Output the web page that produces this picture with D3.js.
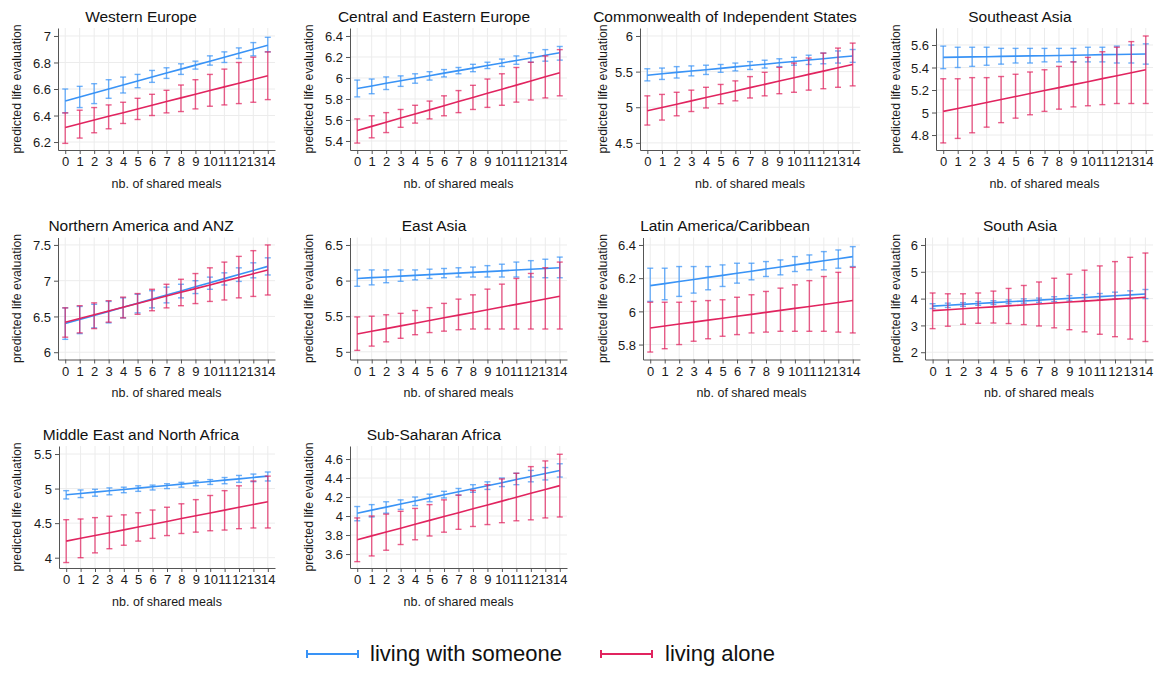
<!DOCTYPE html>
<html>
<head>
<meta charset="utf-8">
<script src="https://cdn.jsdelivr.net/npm/d3@7"></script>
<style>
  html, body { margin: 0; padding: 0; background: #fff; }
  svg { display: block; font-family: "Liberation Sans", Arial, Helvetica, sans-serif; }
</style>
</head>
<body>
<svg id="chart" width="1158" height="673"></svg>
<script>
// ---------------- DATA ----------------
const meals = [0,1,2,3,4,5,6,7,8,9,10,11,12,13,14];
const regions = ["Western Europe", "Central and Eastern Europe", "Commonwealth of Independent States", "Southeast Asia",
  "Northern America and ANZ", "East Asia", "Latin America/Caribbean", "South Asia",
  "Middle East and North Africa", "Sub-Saharan Africa"];
const seriesNames = ["living with someone", "living alone"];
const xTitle = "nb. of shared meals";
const yTitle = "predicted life evaluation";

// Western Europe
const weTicks = [6.2, 6.4, 6.6, 6.8, 7];
const weWithMean = [6.51,6.54,6.57,6.60,6.63,6.66,6.69,6.72,6.75,6.78,6.81,6.84,6.87,6.90,6.93];
const weWithLo   = [6.42,6.46,6.49,6.53,6.57,6.61,6.65,6.68,6.71,6.75,6.78,6.80,6.83,6.85,6.88];
const weWithHi   = [6.60,6.62,6.64,6.67,6.69,6.71,6.74,6.76,6.79,6.81,6.85,6.88,6.91,6.95,6.99];
const weAloneMean = [6.310,6.338,6.366,6.394,6.421,6.449,6.477,6.505,6.533,6.561,6.589,6.616,6.644,6.672,6.700];
const weAloneLo   = [6.19,6.23,6.27,6.30,6.34,6.37,6.40,6.42,6.43,6.45,6.47,6.48,6.49,6.50,6.52];
const weAloneHi   = [6.42,6.44,6.46,6.48,6.50,6.53,6.56,6.59,6.63,6.67,6.71,6.75,6.80,6.84,6.88];

// Central and Eastern Europe
const ceeTicks = [5.4, 5.6, 5.8, 6, 6.2, 6.4];
const ceeWithMean = [5.900,5.924,5.949,5.973,5.997,6.021,6.046,6.070,6.094,6.119,6.143,6.167,6.191,6.216,6.240];
const ceeWithLo   = [5.82,5.85,5.89,5.92,5.95,5.98,6.01,6.04,6.06,6.09,6.11,6.13,6.15,6.16,6.17];
const ceeWithHi   = [5.98,5.99,6.01,6.02,6.04,6.06,6.08,6.10,6.13,6.15,6.18,6.21,6.24,6.27,6.30];
const ceeAloneMean = [5.500,5.539,5.579,5.618,5.657,5.696,5.736,5.775,5.814,5.854,5.893,5.932,5.971,6.011,6.050];
const ceeAloneLo   = [5.38,5.43,5.48,5.53,5.57,5.61,5.64,5.67,5.70,5.72,5.74,5.77,5.79,5.81,5.83];
const ceeAloneHi   = [5.61,5.64,5.67,5.70,5.74,5.78,5.83,5.88,5.93,5.99,6.04,6.10,6.15,6.21,6.27];

// Commonwealth of Independent States
const cisTicks = [4.5, 5, 5.5, 6];
const cisWithMean = [5.450,5.469,5.489,5.508,5.527,5.546,5.566,5.585,5.604,5.624,5.643,5.662,5.681,5.701,5.720];
const cisWithLo   = [5.37,5.39,5.41,5.44,5.46,5.49,5.51,5.53,5.55,5.57,5.59,5.60,5.61,5.62,5.63];
const cisWithHi   = [5.54,5.55,5.57,5.58,5.59,5.60,5.62,5.64,5.66,5.68,5.70,5.73,5.76,5.79,5.81];
const cisAloneMean = [4.950,4.996,5.043,5.089,5.136,5.182,5.229,5.275,5.321,5.368,5.414,5.461,5.507,5.554,5.600];
const cisAloneLo   = [4.75,4.82,4.88,4.94,4.99,5.05,5.09,5.13,5.16,5.19,5.21,5.24,5.26,5.28,5.30];
const cisAloneHi   = [5.16,5.18,5.21,5.24,5.28,5.32,5.37,5.43,5.49,5.56,5.62,5.69,5.76,5.83,5.90];

// Southeast Asia
const seaTicks = [4.8, 5, 5.2, 5.4, 5.6];
const seaWithMean = [5.490,5.492,5.494,5.496,5.499,5.501,5.503,5.505,5.507,5.509,5.511,5.514,5.516,5.518,5.520];
const seaWithLo   = [5.39,5.40,5.41,5.42,5.43,5.44,5.44,5.45,5.45,5.45,5.45,5.45,5.44,5.44,5.43];
const seaWithHi   = [5.59,5.58,5.58,5.58,5.57,5.57,5.57,5.57,5.57,5.57,5.58,5.58,5.59,5.60,5.61];
const seaAloneMean = [5.010,5.036,5.063,5.089,5.116,5.142,5.169,5.195,5.221,5.248,5.274,5.301,5.327,5.354,5.380];
const seaAloneLo   = [4.73,4.77,4.82,4.87,4.91,4.95,4.98,5.01,5.03,5.05,5.06,5.07,5.08,5.08,5.08];
const seaAloneHi   = [5.30,5.30,5.31,5.31,5.32,5.34,5.36,5.38,5.41,5.45,5.49,5.54,5.58,5.63,5.68];

// Northern America and ANZ
const naTicks = [6, 6.5, 7, 7.5];
const naWithMean = [6.400,6.457,6.514,6.571,6.629,6.686,6.743,6.800,6.857,6.914,6.971,7.029,7.086,7.143,7.200];
const naWithLo   = [6.18,6.26,6.34,6.41,6.48,6.55,6.62,6.69,6.76,6.82,6.88,6.94,6.99,7.04,7.08];
const naWithHi   = [6.62,6.64,6.67,6.71,6.76,6.81,6.86,6.91,6.95,7.00,7.05,7.11,7.18,7.25,7.32];
const naAloneMean = [6.420,6.472,6.524,6.576,6.629,6.681,6.733,6.785,6.837,6.889,6.941,6.994,7.046,7.098,7.150];
const naAloneLo   = [6.21,6.27,6.33,6.42,6.48,6.53,6.58,6.62,6.65,6.68,6.71,6.73,6.76,6.78,6.80];
const naAloneHi   = [6.62,6.65,6.69,6.72,6.77,6.82,6.88,6.95,7.02,7.10,7.18,7.26,7.34,7.42,7.50];

// East Asia
const eaTicks = [5, 5.5, 6, 6.5];
const eaWithMean = [6.030,6.041,6.051,6.062,6.073,6.084,6.094,6.105,6.116,6.126,6.137,6.148,6.159,6.169,6.180];
const eaWithLo   = [5.92,5.94,5.97,5.99,6.01,6.03,6.04,6.05,6.05,6.05,6.05,6.05,6.05,6.04,6.04];
const eaWithHi   = [6.15,6.15,6.15,6.15,6.15,6.16,6.17,6.18,6.19,6.21,6.23,6.26,6.28,6.30,6.33];
const eaAloneMean = [5.250,5.288,5.326,5.364,5.401,5.439,5.477,5.515,5.553,5.591,5.629,5.666,5.704,5.742,5.780];
const eaAloneLo   = [5.02,5.08,5.14,5.19,5.24,5.27,5.29,5.31,5.32,5.32,5.32,5.32,5.32,5.32,5.32];
const eaAloneHi   = [5.49,5.50,5.52,5.54,5.58,5.62,5.68,5.74,5.80,5.88,5.95,6.03,6.10,6.18,6.26];

// Latin America/Caribbean
const laTicks = [5.8, 6, 6.2, 6.4];
const laWithMean = [6.155,6.167,6.180,6.192,6.205,6.217,6.230,6.242,6.255,6.267,6.280,6.292,6.305,6.317,6.330];
const laWithLo   = [6.06,6.07,6.09,6.11,6.13,6.15,6.17,6.19,6.21,6.22,6.24,6.25,6.25,6.26,6.27];
const laWithHi   = [6.26,6.26,6.27,6.27,6.27,6.28,6.29,6.29,6.30,6.31,6.33,6.34,6.36,6.37,6.39];
const laAloneMean = [5.900,5.912,5.924,5.935,5.947,5.959,5.971,5.982,5.994,6.006,6.018,6.029,6.041,6.053,6.065];
const laAloneLo   = [5.755,5.775,5.800,5.820,5.835,5.850,5.860,5.870,5.875,5.880,5.880,5.880,5.880,5.875,5.870];
const laAloneHi   = [6.055,6.055,6.055,6.060,6.065,6.070,6.085,6.100,6.120,6.140,6.160,6.185,6.210,6.235,6.265];

// South Asia
const saTicks = [2, 3, 4, 5, 6];
const saWithMean = [3.720,3.752,3.784,3.816,3.849,3.881,3.913,3.945,3.977,4.009,4.041,4.074,4.106,4.138,4.170];
const saWithLo   = [3.63,3.67,3.71,3.75,3.78,3.81,3.83,3.86,3.89,3.91,3.93,3.95,3.98,3.99,4.00];
const saWithHi   = [3.81,3.83,3.85,3.89,3.92,3.95,3.99,4.02,4.07,4.11,4.15,4.19,4.24,4.29,4.34];
const saAloneMean = [3.550,3.586,3.621,3.657,3.693,3.729,3.764,3.800,3.836,3.871,3.907,3.943,3.979,4.014,4.050];
const saAloneLo   = [2.88,2.97,3.04,3.08,3.09,3.07,3.03,2.98,2.91,2.84,2.76,2.67,2.58,2.49,2.40];
const saAloneHi   = [4.21,4.18,4.18,4.21,4.28,4.38,4.49,4.62,4.76,4.91,5.06,5.22,5.38,5.54,5.70];

// Middle East and North Africa
const menaTicks = [4, 4.5, 5, 5.5];
const menaWithMean = [4.910,4.929,4.949,4.968,4.987,5.006,5.026,5.045,5.064,5.084,5.103,5.122,5.141,5.161,5.180];
const menaWithLo   = [4.85,4.87,4.89,4.91,4.94,4.96,4.98,5.00,5.02,5.04,5.06,5.07,5.09,5.10,5.11];
const menaWithHi   = [4.97,4.98,4.99,5.01,5.02,5.04,5.05,5.07,5.09,5.11,5.13,5.16,5.19,5.21,5.24];
const menaAloneMean = [4.240,4.281,4.321,4.362,4.403,4.444,4.484,4.525,4.566,4.606,4.647,4.688,4.729,4.769,4.810];
const menaAloneLo   = [3.93,4.00,4.07,4.13,4.18,4.24,4.28,4.32,4.35,4.37,4.39,4.40,4.42,4.43,4.43];
const menaAloneHi   = [4.55,4.56,4.58,4.60,4.62,4.65,4.69,4.73,4.78,4.84,4.90,4.97,5.04,5.11,5.18];

// Sub-Saharan Africa
const ssaTicks = [3.6, 3.8, 4, 4.2, 4.4, 4.6];
const ssaWithMean = [4.030,4.062,4.094,4.126,4.159,4.191,4.223,4.255,4.287,4.319,4.351,4.384,4.416,4.448,4.480];
const ssaWithLo   = [3.95,3.99,4.03,4.07,4.11,4.15,4.19,4.22,4.25,4.28,4.31,4.33,4.36,4.38,4.41];
const ssaWithHi   = [4.10,4.12,4.15,4.17,4.20,4.23,4.26,4.29,4.33,4.36,4.40,4.45,4.48,4.51,4.55];
const ssaAloneMean = [3.750,3.791,3.831,3.872,3.913,3.954,3.994,4.035,4.076,4.116,4.157,4.198,4.239,4.279,4.320];
const ssaAloneLo   = [3.52,3.58,3.64,3.70,3.75,3.79,3.83,3.86,3.89,3.91,3.93,3.95,3.96,3.98,3.99];
const ssaAloneHi   = [3.98,4.00,4.02,4.05,4.08,4.12,4.17,4.22,4.27,4.33,4.39,4.45,4.52,4.58,4.65];

// ---------------- LAYOUT ----------------
const colors = ["#3993f6", "#e1245f"];
const rowTop = [28, 237.5, 446];
const plotH = 122;
const colRight = [275, 567, 860, 1153];
const colTitleX = [141, 434, 725, 1020];
const colYTitleX = [17, 309, 603, 896];
const panelLeft = [58, 350, 640, 936, 58, 350, 643, 925, 59, 350];
const panelYDomain = [[6.14, 7.06], [5.314, 6.476], [4.40, 6.112], [4.667, 5.751],
  [5.898, 7.604], [4.892, 6.605], [5.71, 6.445], [1.729, 6.279],
  [3.851, 5.616], [3.453, 4.737]];

const panels = [
  {ticks: weTicks, s: [[weWithMean, weWithLo, weWithHi], [weAloneMean, weAloneLo, weAloneHi]]},
  {ticks: ceeTicks, s: [[ceeWithMean, ceeWithLo, ceeWithHi], [ceeAloneMean, ceeAloneLo, ceeAloneHi]]},
  {ticks: cisTicks, s: [[cisWithMean, cisWithLo, cisWithHi], [cisAloneMean, cisAloneLo, cisAloneHi]]},
  {ticks: seaTicks, s: [[seaWithMean, seaWithLo, seaWithHi], [seaAloneMean, seaAloneLo, seaAloneHi]]},
  {ticks: naTicks, s: [[naWithMean, naWithLo, naWithHi], [naAloneMean, naAloneLo, naAloneHi]]},
  {ticks: eaTicks, s: [[eaWithMean, eaWithLo, eaWithHi], [eaAloneMean, eaAloneLo, eaAloneHi]]},
  {ticks: laTicks, s: [[laWithMean, laWithLo, laWithHi], [laAloneMean, laAloneLo, laAloneHi]]},
  {ticks: saTicks, s: [[saWithMean, saWithLo, saWithHi], [saAloneMean, saAloneLo, saAloneHi]]},
  {ticks: menaTicks, s: [[menaWithMean, menaWithLo, menaWithHi], [menaAloneMean, menaAloneLo, menaAloneHi]]},
  {ticks: ssaTicks, s: [[ssaWithMean, ssaWithLo, ssaWithHi], [ssaAloneMean, ssaAloneLo, ssaAloneHi]]}
];

const svg = d3.select("#chart");
const axisColor = "#555";

panels.forEach((p, i) => {
  const row = Math.floor(i / 4), col = i % 4;
  const top = rowTop[row], bottom = top + plotH;
  const left = panelLeft[i], right = colRight[col];
  const x = d3.scaleLinear().domain([-0.5, 14.5]).range([left, right]);
  const y = d3.scaleLinear().domain(panelYDomain[i]).range([bottom, top]);
  const g = svg.append("g");

  // grid
  g.append("g").selectAll("line").data(meals).join("line")
    .attr("x1", d => x(d)).attr("x2", d => x(d)).attr("y1", top).attr("y2", bottom)
    .attr("stroke", "#ececec").attr("stroke-width", 1);
  g.append("g").selectAll("line").data(p.ticks).join("line")
    .attr("x1", left).attr("x2", right).attr("y1", d => y(d)).attr("y2", d => y(d))
    .attr("stroke", "#ececec").attr("stroke-width", 1);

  // axes
  const ax = g.append("g").attr("transform", `translate(0,${bottom})`)
    .call(d3.axisBottom(x).tickValues(meals).tickFormat(d3.format("d")).tickSize(4).tickSizeOuter(0).tickPadding(3));
  const ay = g.append("g").attr("transform", `translate(${left},0)`)
    .call(d3.axisLeft(y).tickValues(p.ticks).tickFormat(d => String(d)).tickSize(4).tickSizeOuter(0).tickPadding(3));
  [ax, ay].forEach(a => {
    a.select(".domain").attr("stroke", axisColor);
    a.selectAll(".tick line").attr("stroke", axisColor);
    a.selectAll(".tick text").attr("fill", "#1a1a1a").style("font-size", "13px")
      .style("font-family", "'Liberation Sans', Arial, sans-serif");
  });
  ay.selectAll(".tick text").attr("dy", "0.36em");

  // series
  p.s.forEach((ser, k) => {
    const [mean, lo, hi] = ser;
    const eg = g.append("g").attr("stroke", colors[k]).attr("stroke-opacity", 0.72).attr("stroke-width", 1.4);
    eg.selectAll("line.v").data(meals).join("line").attr("class", "v")
      .attr("x1", d => x(d)).attr("x2", d => x(d)).attr("y1", d => y(lo[d])).attr("y2", d => y(hi[d]));
    eg.selectAll("line.c1").data(meals).join("line").attr("class", "c1")
      .attr("x1", d => x(d) - 3).attr("x2", d => x(d) + 3).attr("y1", d => y(lo[d])).attr("y2", d => y(lo[d]));
    eg.selectAll("line.c2").data(meals).join("line").attr("class", "c2")
      .attr("x1", d => x(d) - 3).attr("x2", d => x(d) + 3).attr("y1", d => y(hi[d])).attr("y2", d => y(hi[d]));
    g.append("path").datum(meals)
      .attr("fill", "none").attr("stroke", colors[k]).attr("stroke-width", 1.6)
      .attr("d", d3.line().x(d => x(d)).y(d => y(mean[d])));
  });

  // titles
  g.append("text").attr("x", colTitleX[col]).attr("y", top - 6.5)
    .attr("text-anchor", "middle").style("font-size", "15.5px").attr("fill", "#111").text(regions[i]);
  g.append("text").attr("x", (left + right) / 2).attr("y", bottom + 37.5)
    .attr("text-anchor", "middle").style("font-size", "12.5px").attr("fill", "#1a1a1a").text(xTitle);
  g.append("text").attr("transform", `translate(${colYTitleX[col]},${(top + bottom) / 2}) rotate(-90)`)
    .attr("text-anchor", "middle").attr("dy", "0.35em").style("font-size", "12.3px").attr("fill", "#1a1a1a").text(yTitle);
});

// legend
const legendX = [307, 601];
const legendTextX = [370, 665];
const ly = 654;
seriesNames.forEach((name, k) => {
  const lg = svg.append("g").attr("stroke", colors[k]).attr("stroke-width", 2);
  lg.append("line").attr("x1", legendX[k]).attr("x2", legendX[k] + 51).attr("y1", ly).attr("y2", ly);
  lg.append("line").attr("x1", legendX[k]).attr("x2", legendX[k]).attr("y1", ly - 4).attr("y2", ly + 4);
  lg.append("line").attr("x1", legendX[k] + 51).attr("x2", legendX[k] + 51).attr("y1", ly - 4).attr("y2", ly + 4);
  svg.append("text").attr("x", legendTextX[k]).attr("y", ly).attr("dy", "0.33em")
    .style("font-size", "22px").attr("fill", "#111").text(name);
});
</script>
</body>
</html>
